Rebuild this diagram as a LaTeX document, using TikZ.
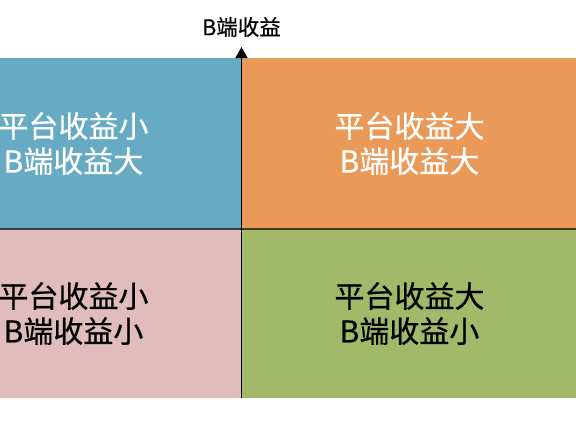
\documentclass[tikz,border=0pt]{standalone}
\usepackage{fontspec}
\setmainfont{Noto Sans CJK SC}[FakeBold=0.6]
\usetikzlibrary{arrows.meta}
\definecolor{qblue}{RGB}{103,170,196}
\definecolor{qorange}{RGB}{234,154,88}
\definecolor{qpink}{RGB}{224,188,188}
\definecolor{qgreen}{RGB}{162,185,106}
\tikzset{
  quad/.style={draw=none, minimum width=335pt, inner sep=0pt, outer sep=0pt, align=center, font=\fontsize{30}{35}\selectfont},
  axislbl/.style={font=\fontsize{21.5}{24}\selectfont, inner sep=0pt}
}
\begin{document}
\begin{tikzpicture}[x=1pt,y=-1pt]
\useasboundingbox[fill=white] (0,0) rectangle (576,432);
\node[quad, fill=qblue, text=white, minimum height=171pt, anchor=north east] (tl) at (241,58) {平台收益小\\B端收益大};
\node[quad, fill=qorange, text=white, minimum height=171pt, anchor=north west] (tr) at (242,58) {平台收益大\\B端收益大};
\node[quad, fill=qpink, text=black, minimum height=169pt, anchor=north east] (bl) at (241,229) {平台收益小\\B端收益小};
\node[quad, fill=qgreen, text=black, minimum height=169pt, anchor=north west] (br) at (242,229) {平台收益大\\B端收益小};
\coordinate (xl) at (0,229);
\coordinate (xr) at (576,229);
\draw[line width=2pt, black, opacity=0.65] (xl) -- (xr);
\coordinate (ybot) at (241.5,398);
\coordinate (ytop) at (241.5,47);
\draw[line width=1.5pt, -{Triangle[length=11pt,width=12pt]}] (ybot) -- (ytop);
\node[axislbl] (ylbl) at (241.5,27) {B端收益};
\end{tikzpicture}
\end{document}
